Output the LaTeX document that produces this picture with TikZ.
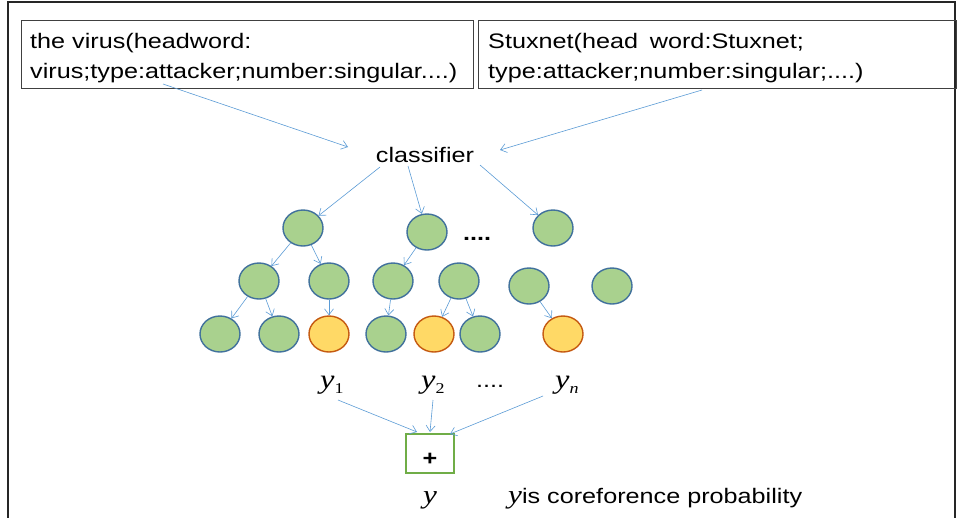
\documentclass[tikz,border=0pt]{standalone}
\usepackage{fontspec}
\setmainfont{Liberation Sans}
\newfontfamily\serifit{Liberation Serif}
\usetikzlibrary{arrows.meta}
\definecolor{arr}{HTML}{5B9BD5}
\definecolor{gfill}{HTML}{A9D18E}
\definecolor{gdraw}{HTML}{41719C}
\definecolor{yfill}{HTML}{FFD966}
\definecolor{ydraw}{HTML}{C55A11}
\definecolor{plusg}{HTML}{70AD47}
\newcommand{\sx}[1]{\scalebox{1.2}[1]{#1}}
\newcommand{\yv}[1]{\sx{\fontsize{27}{27}\selectfont\serifit\itshape y}\raisebox{-5pt}{\sx{\fontsize{15}{15}\selectfont\serifit #1}}}
\tikzset{
  txt/.style={inner sep=0pt, font=\fontsize{21}{25}\selectfont},
  tbox/.style={draw=black!75, line width=0.9pt, inner sep=0pt},
  gc/.style={ellipse, draw=gdraw, fill=gfill, line width=1.4pt, minimum width=40pt, minimum height=36pt, inner sep=0pt},
  yc/.style={ellipse, draw=ydraw, fill=yfill, line width=1.4pt, minimum width=40pt, minimum height=36pt, inner sep=0pt},
  con/.style={draw=arr, line width=0.6pt, -{Straight Barb[length=6pt,width=9pt]}},
}
\usetikzlibrary{shapes.geometric}
\begin{document}
\begin{tikzpicture}[x=1pt,y=-1pt]
\useasboundingbox (0,0) rectangle (957,517);
\begin{scope}
\clip (0,0) rectangle (957,517);
\draw[black!85, line width=1.4pt] (8,530) -- (8,2) -- (955,2) -- (955,530);
\end{scope}
% top boxes
\node[tbox, minimum width=452pt, minimum height=68pt] (lbox) at (247,54) {};
\node[tbox, minimum width=478pt, minimum height=68pt] (rbox) at (717,54) {};
\node[txt, anchor=base west] (l1) at (30,48) {\sx{the virus(headword:}};
\node[txt, anchor=base west] (l2) at (30,78) {\sx{virus;type:attacker;number:singular....)}};
\node[txt, anchor=base west] (r1) at (488,48) {\sx{Stuxnet(head\hspace{4pt} word:Stuxnet;}};
\node[txt, anchor=base west] (r2) at (488,78) {\sx{type:attacker;number:singular;....)}};
\coordinate (ls) at (163,84);
\coordinate (rs) at (702,90);
% classifier
\node[txt, anchor=base] (cls) at (425,162) {\sx{classifier}};
\coordinate (clt1) at (348,147);
\coordinate (clt2) at (500,150);
\draw[con] (ls) -- (clt1);
\draw[con] (rs) -- (clt2);
% tree nodes
\node[gc] (A) at (303,228) {};
\node[gc] (B) at (427,232) {};
\node[gc] (C) at (553,228) {};
\node[txt, anchor=base, font=\fontsize{21}{25}\selectfont\bfseries] (dots1) at (477,240) {\sx{....}};
\node[gc] (D) at (259,281) {};
\node[gc] (E) at (329,281) {};
\node[gc] (F) at (393,281) {};
\node[gc] (G) at (459,281) {};
\node[gc] (H) at (529,286) {};
\node[gc] (I) at (612,286) {};
\node[gc] (J) at (220,334) {};
\node[gc] (K) at (279,334) {};
\node[yc] (L) at (329,334) {};
\node[gc] (M) at (386,334) {};
\node[yc] (N) at (434,334) {};
\node[gc] (O) at (480,334) {};
\node[yc] (P) at (563,334) {};
\coordinate (c1) at (380,167);
\coordinate (c2) at (408,166);
\coordinate (c3) at (480,165);
\draw[con] (c1) -- (A);
\draw[con] (c2) -- (B);
\draw[con] (c3) -- (C);
\draw[con] (A) -- (D);
\draw[con] (A) -- (E);
\draw[con] (B) -- (F);
\draw[con] (D) -- (J);
\draw[con] (D) -- (K);
\draw[con] (E) -- (L);
\draw[con] (F) -- (M);
\draw[con] (G) -- (N);
\draw[con] (G) -- (O);
\draw[con] (H) -- (P);
% y labels
\node[inner sep=0pt, anchor=base west] (y1) at (320,388) {\yv{1}};
\node[inner sep=0pt, anchor=base west] (y2) at (421,388) {\yv{2}};
\node[inner sep=0pt, anchor=base west] (yn) at (555,388) {\yv{\itshape n}};
\node[txt, anchor=base] (dots2) at (490,387) {\sx{....}};
% plus box
\node[draw=plusg, line width=1.3pt, minimum width=48pt, minimum height=39pt, inner sep=0pt] (plus) at (430,453.5) {};
\node[txt, anchor=base, font=\fontsize{21}{25}\selectfont\bfseries] (plustxt) at (430,465) {\sx{+}};
\coordinate (p1) at (417,432);
\coordinate (p2) at (430,432);
\coordinate (p3) at (450,434);
\coordinate (s1) at (338,400);
\coordinate (s2) at (433,400);
\coordinate (s3) at (543,396);
\draw[con] (s1) -- (p1);
\draw[con] (s2) -- (p2);
\draw[con] (s3) -- (p3);
% bottom text
\node[inner sep=0pt, anchor=base] (yout) at (430,503) {\sx{\fontsize{26}{26}\selectfont\serifit\itshape y}};
\node[inner sep=0pt, anchor=base west] (ydesc) at (508,503) {\sx{\fontsize{26}{26}\selectfont\serifit\itshape y}\sx{\fontsize{21}{25}\selectfont is coreforence probability}};
\end{tikzpicture}
\end{document}
